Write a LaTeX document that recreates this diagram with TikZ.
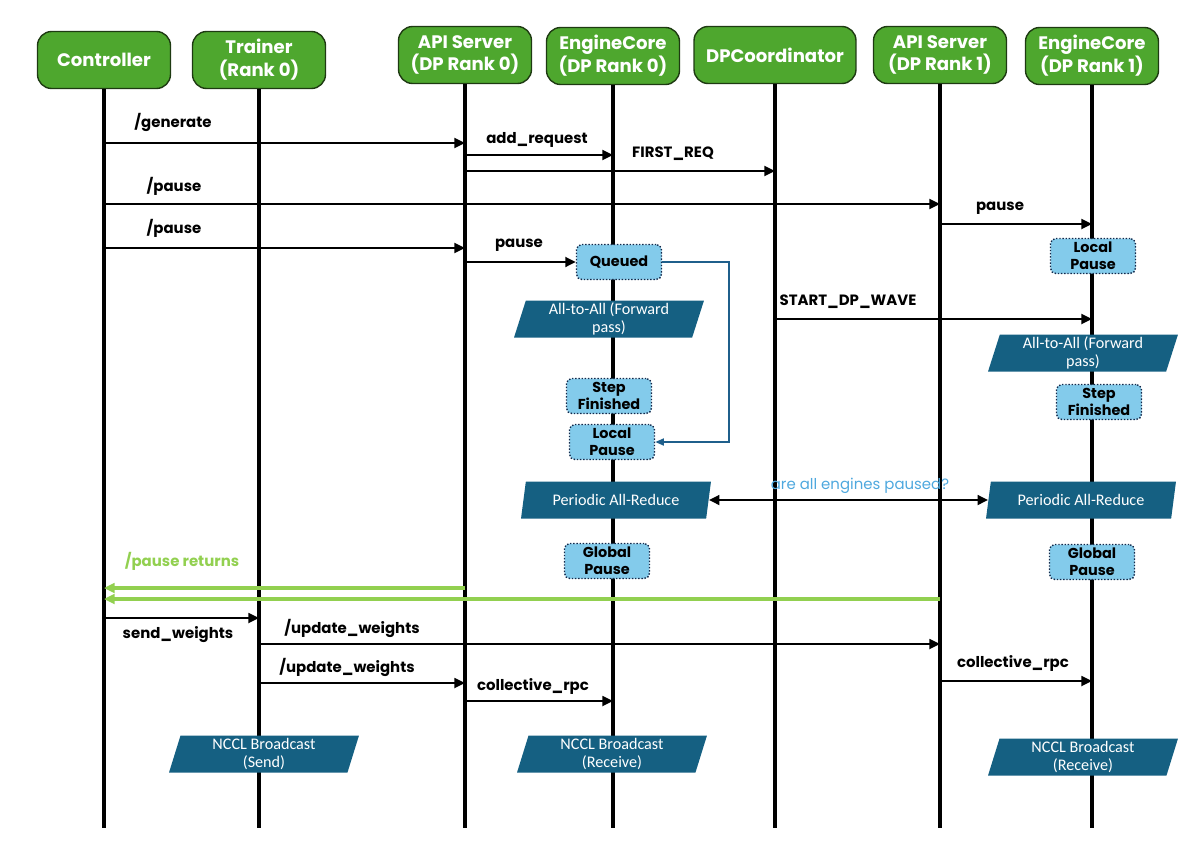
\documentclass[tikz,border=0pt]{standalone}
\usepackage{fontspec}
\setmainfont{Poppins}
\newfontfamily\flowfont{Carlito}
\usetikzlibrary{positioning, arrows.meta, shapes.geometric}
\definecolor{hdrgreen}{HTML}{4EA72E}
\definecolor{hdredge}{HTML}{1E3A12}
\definecolor{boxblue}{HTML}{83CBEB}
\definecolor{boxedge}{HTML}{13294B}
\definecolor{wavecol}{HTML}{156082}
\definecolor{retgreen}{HTML}{92D050}
\definecolor{asktext}{HTML}{4EA8DE}
\definecolor{loopcol}{HTML}{1F5F8B}
\tikzset{
    actor/.style={rectangle, rounded corners=8pt, draw=hdredge, line width=0.8pt, fill=hdrgreen, text=white, font=\fontsize{10.3}{13}\selectfont\bfseries, align=center, minimum width=2.66cm, minimum height=1.14cm, inner sep=1pt},
    lifeline/.style={line width=1.9pt, black},
    msg/.style={-{Triangle[length=6pt, width=5.5pt]}, line width=1.6pt, black},
    mlabel/.style={font=\fontsize{8.5}{10}\selectfont\bfseries, inner sep=0pt},
    state/.style={rectangle, rounded corners=3pt, draw=boxedge, densely dotted, line width=0.8pt, fill=boxblue, font=\fontsize{8.2}{9.8}\selectfont\bfseries, align=center, minimum width=1.7cm, minimum height=0.7cm, inner sep=1pt},
    wave/.style={trapezium, trapezium left angle=72, trapezium right angle=108, trapezium stretches body, fill=wavecol, text=white, font=\flowfont\fontsize{9.2}{10.5}\selectfont, align=center, minimum width=3.8cm, minimum height=0.74cm, inner sep=1pt},
    retmsg/.style={-{Triangle[length=6pt, width=5.5pt]}, line width=1.9pt, retgreen}
}
\begin{document}
\begin{tikzpicture}[x=0.02cm, y=-0.02cm]
        \useasboundingbox (0,0) rectangle (1200,849);

        % Participants
        \node[actor] (ctl) at (104,60) {Controller};
        \node[actor] (trn) at (259,60) {Trainer\\(Rank 0)};
        \node[actor] (api0) at (465,55) {API Server\\(DP Rank 0)};
        \node[actor] (ec0) at (613,56) {EngineCore\\(DP Rank 0)};
        \node[actor, minimum width=3.24cm] (dpc) at (775,55) {DPCoordinator};
        \node[actor] (api1) at (940,55) {API Server\\(DP Rank 1)};
        \node[actor] (ec1) at (1092,56) {EngineCore\\(DP Rank 1)};

        % Lifelines
        \foreach \p in {ctl,trn,api0,ec0,dpc,api1,ec1}
            \draw[lifeline] (\p.south) -- (\p |- 0,828);

        % Requests and pause
        \draw[msg] (ctl |- 0,143) -- (api0 |- 0,143);
        \node[mlabel] (lgen) at (173,122) {/generate};
        \draw[msg] (api0 |- 0,155) -- (ec0 |- 0,155);
        \node[mlabel] (ladd) at (537,140) {add\_request};
        \draw[msg] (api0 |- 0,171) -- (dpc |- 0,171);
        \node[mlabel] (lfirst) at (673,154) {FIRST\_REQ};
        \draw[msg] (ctl |- 0,204) -- (api1 |- 0,204);
        \node[mlabel] (lpause1) at (174,186) {/pause};
        \draw[msg] (api1 |- 0,224) -- (ec1 |- 0,224);
        \node[mlabel] (lp1msg) at (1000,208) {pause};
        \draw[msg] (ctl |- 0,248) -- (api0 |- 0,248);
        \node[mlabel] (lpause0) at (174,228) {/pause};

        % Engine states
        \node[state] (queued) at (619,262) {Queued};
        \node[state] (lp1) at (1093,256) {Local\\Pause};
        \node[wave] (a2a0) at (609,319) {All-to-All (Forward\\pass)};
        \node[wave] (a2a1) at (1083,353) {All-to-All (Forward\\pass)};
        \node[state] (sf0) at (609,396) {Step\\Finished};
        \node[state] (lp0) at (612,442) {Local\\Pause};
        \node[state] (sf1) at (1099,402) {Step\\Finished};
        \node[wave] (ar0) at (616,500) {Periodic All-Reduce};
        \node[wave] (ar1) at (1081,500) {Periodic All-Reduce};
        \node[state] (gp0) at (607,561) {Global\\Pause};
        \node[state] (gp1) at (1092,562) {Global\\Pause};

        \draw[msg] (api0 |- queued) -- (queued.west);
        \node[mlabel] (lp0msg) at (519,245) {pause};
        \draw[-{Triangle[length=5pt, width=4pt]}, line width=1pt, loopcol] (queued.east) -- ++(67,0) |- (lp0.east);
        \draw[msg] (dpc |- 0,319) -- (ec1 |- 0,319);
        \node[mlabel] (lwave) at (848,302) {START\_DP\_WAVE};
        \draw[{Triangle[length=6pt, width=5.5pt]}-{Triangle[length=6pt, width=5.5pt]}, line width=1.6pt] (ar0.east) -- (ar1.west);
        \node[mlabel, font=\fontsize{8.5}{10}\selectfont\mdseries, text=asktext] (lask) at (860,486) {are all engines paused?};

        % Pause returns
        \draw[retmsg] (api0 |- 0,588) -- (ctl |- 0,588);
        \draw[retmsg] (api1 |- 0,599) -- (ctl |- 0,599);
        \node[mlabel, text=retgreen] (lret) at (182,561) {/pause returns};

        % Weight update
        \draw[msg] (ctl |- 0,618) -- (trn |- 0,618);
        \node[mlabel] (lsend) at (178,635) {send\_weights};
        \draw[msg] (trn |- 0,644) -- (api1 |- 0,644);
        \node[mlabel] (lupd1) at (352,628) {/update\_weights};
        \draw[msg] (trn |- 0,683) -- (api0 |- 0,683);
        \node[mlabel] (lupd0) at (347,667) {/update\_weights};
        \draw[msg] (api0 |- 0,701) -- (ec0 |- 0,701);
        \node[mlabel] (lrpc0) at (533,686) {collective\_rpc};
        \draw[msg] (api1 |- 0,681) -- (ec1 |- 0,681);
        \node[mlabel] (lrpc1) at (1013,663) {collective\_rpc};

        \node[wave] (nccl0) at (264,754) {NCCL Broadcast\\(Send)};
        \node[wave] (nccl1) at (612,754) {NCCL Broadcast\\(Receive)};
        \node[wave] (nccl2) at (1083,757) {NCCL Broadcast\\(Receive)};
    \end{tikzpicture}
\end{document}
